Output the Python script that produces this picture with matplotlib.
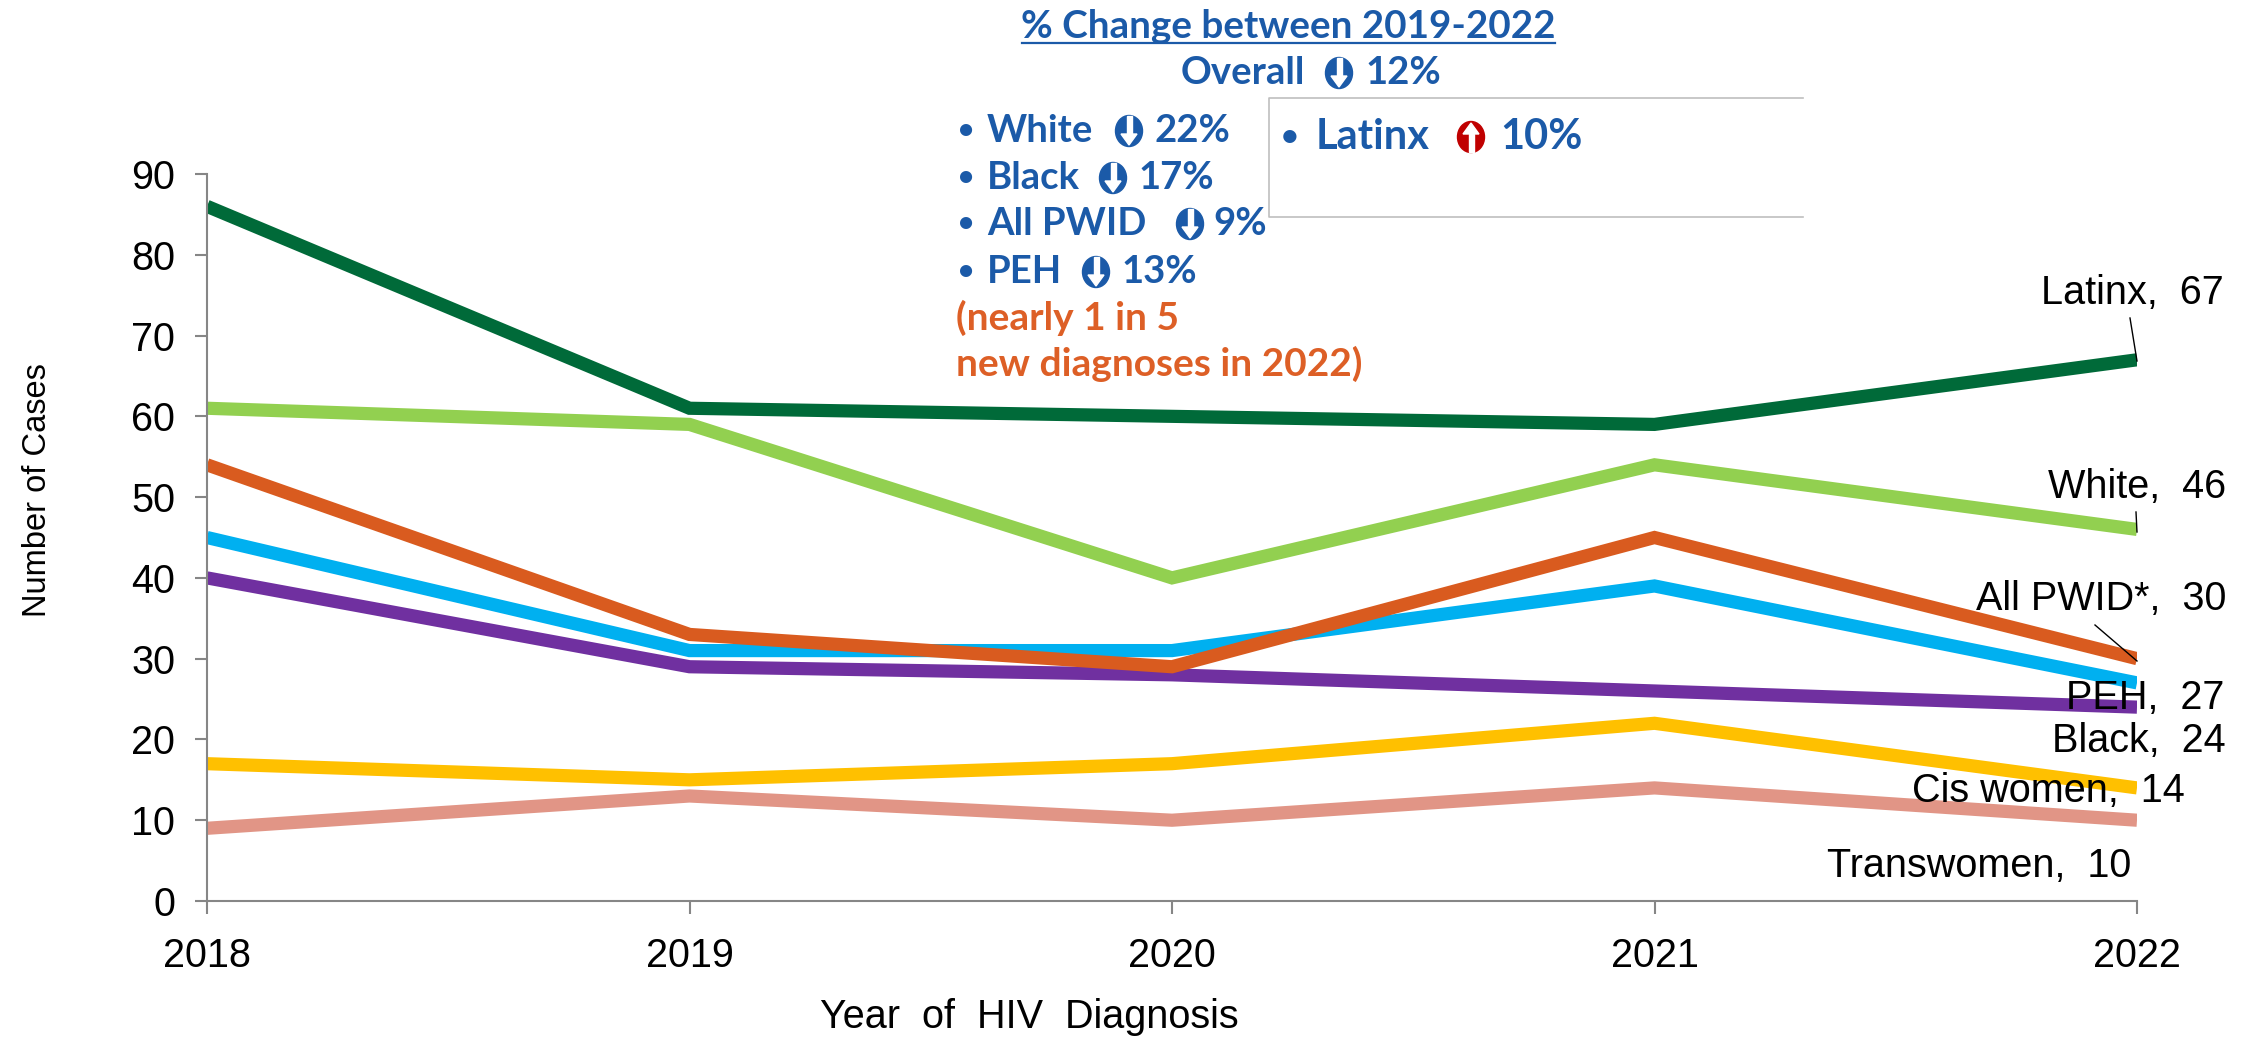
import matplotlib
matplotlib.use("Agg")
import matplotlib.pyplot as plt
from matplotlib.patches import Ellipse, Polygon, Rectangle
from matplotlib.lines import Line2D

years = [2018, 2019, 2020, 2021, 2022]
latinx = [86, 61, 60, 59, 67]
white = [61, 59, 40, 54, 46]
pwid = [54, 33, 29, 45, 30]
peh = [45, 31, 31, 39, 27]
black = [40, 29, 28, 26, 24]
cis_women = [17, 15, 17, 22, 14]
transwomen = [9, 13, 10, 14, 10]

W, H = 2254, 1041
BLUE = "#1B5AA8"
ORANGE = "#DD5F26"
RED = "#C00000"

plt.rcParams["font.family"] = ["Liberation Sans", "DejaVu Sans"]
fig = plt.figure(figsize=(W / 100, H / 100), dpi=100)
ax = fig.add_axes([207 / W, 1 - 901 / H, (2137 - 207) / W, (901 - 174) / H])

# bottom series first, the same stacking as the original
ax.plot(years, latinx, color="#006A39", lw=9.5, solid_capstyle="butt", solid_joinstyle="miter")
ax.plot(years, white, color="#92D050", lw=9.5, solid_capstyle="butt", solid_joinstyle="miter")
ax.plot(years, peh, color="#00B0F0", lw=9.5, solid_capstyle="butt", solid_joinstyle="miter")
ax.plot(years, black, color="#7030A0", lw=9.5, solid_capstyle="butt", solid_joinstyle="miter")
ax.plot(years, pwid, color="#D95B1F", lw=9.5, solid_capstyle="butt", solid_joinstyle="miter")
ax.plot(years, cis_women, color="#FFC000", lw=9.5, solid_capstyle="butt", solid_joinstyle="miter")
ax.plot(years, transwomen, color="#E19586", lw=9.5, solid_capstyle="butt", solid_joinstyle="miter")

ax.set_xlim(2018, 2022)
ax.set_ylim(0, 90)
ax.set_xticks(years)
ax.set_yticks(range(0, 91, 10))
ax.tick_params(axis="x", labelsize=28.5, length=9, width=1.5, color="#868686", pad=17)
ax.tick_params(axis="y", labelsize=28.5, length=9, width=1.5, color="#868686", pad=14)
ax.spines["top"].set_visible(False)
ax.spines["right"].set_visible(False)
ax.spines["left"].set_color("#868686")
ax.spines["bottom"].set_color("#868686")
ax.spines["left"].set_linewidth(1.5)
ax.spines["bottom"].set_linewidth(1.5)


def px(x, y):
    return x / W, 1 - y / H


def label(name, value, right, y):
    ax.annotate(f"{name},  {value}", xy=(2022, value), xycoords="data", xytext=px(right, y),
                textcoords="figure fraction", ha="right", va="center", fontsize=28.5,
                color="black", annotation_clip=False)


label("Latinx", latinx[-1], 2224, 293)
label("White", white[-1], 2226, 487)
label("All PWID*", pwid[-1], 2226, 599)
label("PEH", peh[-1], 2224, 698)
label("Black", black[-1], 2226, 741)
label("Cis women", cis_women[-1], 2185, 791)
label("Transwomen", transwomen[-1], 2131, 866)

# leader lines
for x0, y0, x1, y1 in [(2130, 318, 2137, 361), (2136, 512, 2137, 532), (2095, 625, 2137, 661)]:
    fig.add_artist(Line2D([x0 / W, x1 / W], [1 - y0 / H, 1 - y1 / H], color="black", lw=1))

fig.text(*px(38, 490), "Number of Cases", rotation=90, ha="center", va="center", fontsize=23.5)
fig.text(*px(1029, 1017), "Year  of  HIV  Diagnosis", ha="center", va="center", fontsize=28.5)

# box behind the Latinx line, open on the right
fig.add_artist(Line2D([1803 / W, 1269 / W, 1269 / W, 1803 / W],
                      [1 - 98 / H, 1 - 98 / H, 1 - 217 / H, 1 - 217 / H],
                      color="#BFBFBF", lw=1.2))


def words(x, y, s, color=BLUE, size=27.5, ha="left"):
    fig.text(*px(x, y + 3), s, color=color, fontsize=size, fontweight="bold", family="Lato",
             ha=ha, va="center")


def arrow(x, y, up=False):
    # round badge with a white arrow running through it
    y = y + 3
    color = RED if up else BLUE
    fig.add_artist(Ellipse(px(x, y), 27 / W, 31 / H, color=color, transform=fig.transFigure))
    sign = -1 if up else 1
    fig.add_artist(Rectangle(px(x - 2.5, y + 15 if up else y + 3), 5 / W, 18 / H,
                             color="white", transform=fig.transFigure))
    fig.add_artist(Polygon([px(x - 8, y + sign * 3), px(x + 8, y + sign * 3), px(x, y + sign * 14)],
                           color="white", transform=fig.transFigure))


words(1288, 24, "% Change between 2019-2022", ha="center", size=27.8)
fig.add_artist(Line2D([1022 / W, 1555 / W], [1 - 43 / H, 1 - 43 / H], color=BLUE, lw=1.6))
words(1181, 70, "Overall")
arrow(1339, 70)
words(1365, 70, "12%")

bullet_x = 958
words(bullet_x, 128, "•", size=20)
words(987, 128, "White")
arrow(1129, 128)
words(1154, 128, "22%")
words(bullet_x, 175, "•", size=20)
words(987, 175, "Black")
arrow(1113, 175)
words(1138, 175, "17%")
words(bullet_x, 221, "•", size=20)
words(987, 221, "All PWID")
arrow(1190, 221)
words(1213, 221, "9%")
words(bullet_x, 269, "•", size=20)
words(987, 269, "PEH")
arrow(1096, 269)
words(1121, 269, "13%")
words(956, 315, "(nearly 1 in 5", color=ORANGE, size=28)
words(956, 361, "new diagnoses in 2022)", color=ORANGE, size=28)

words(1281, 134, "•", size=22)
words(1316, 134, "Latinx", size=30)
arrow(1471, 134, up=True)
words(1500, 134, "10%", size=30)

fig.savefig("out.png", dpi=100)
